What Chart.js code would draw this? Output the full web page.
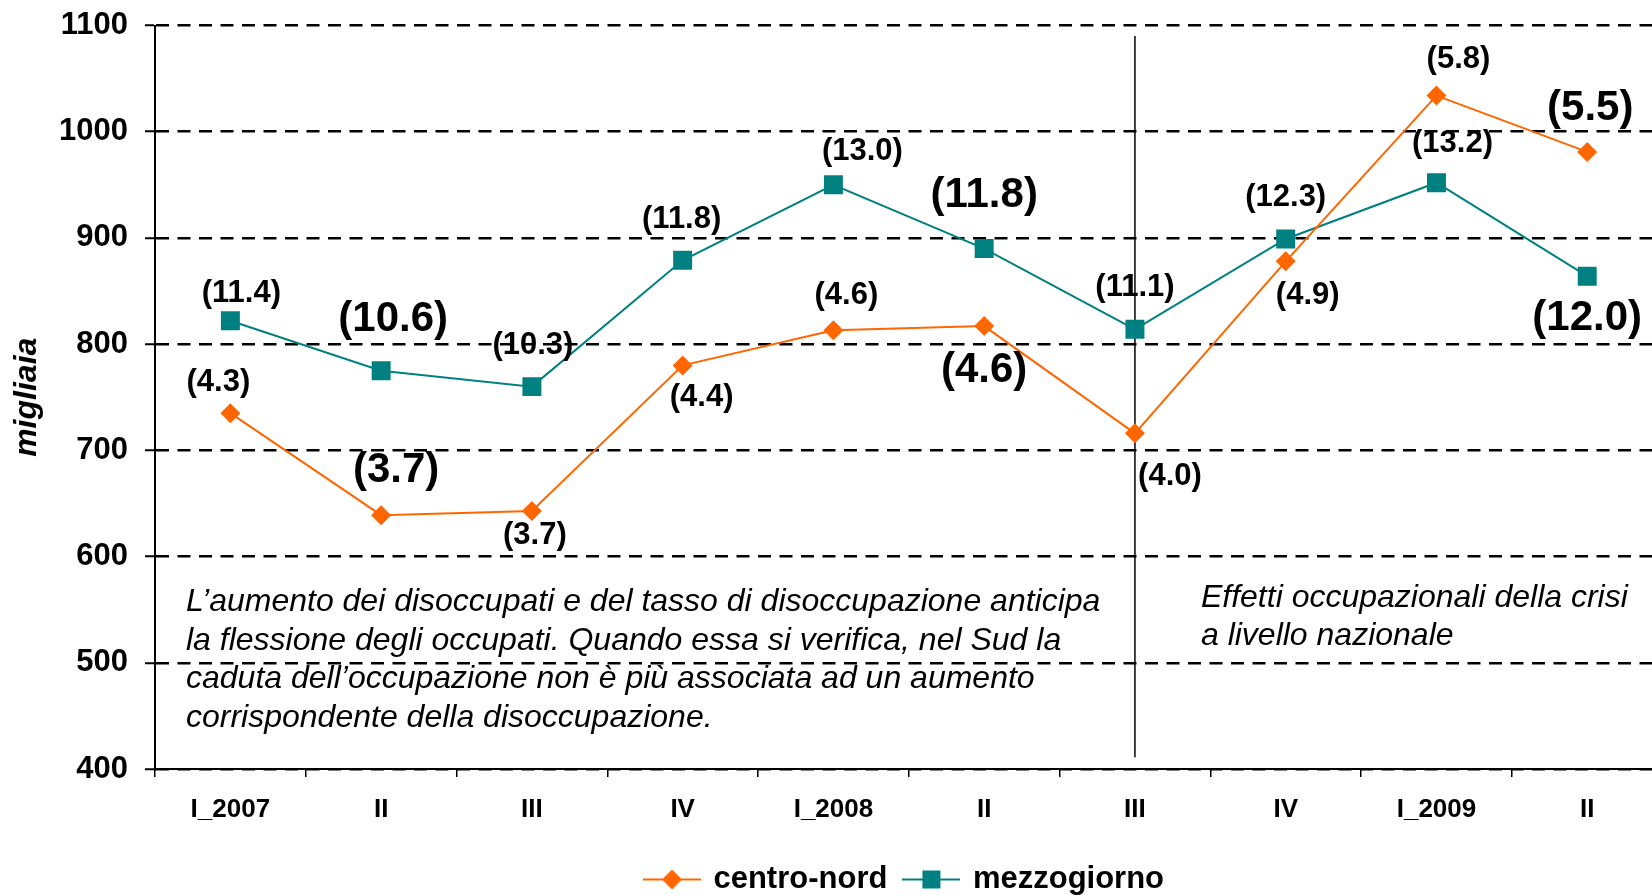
<!DOCTYPE html>
<html><head><meta charset="utf-8">
<script src="https://cdn.jsdelivr.net/npm/chart.js@4.4.1/dist/chart.umd.min.js"></script>
<style>html,body{margin:0;padding:0;overflow:hidden;background:#fff;width:1652px;height:895px}canvas{display:block}</style>
</head><body>
<canvas id="c" width="1676" height="895" style="width:1676px;height:895px"></canvas>
<script>
// ---- data ----
const categories = ["I_2007","II","III","IV","I_2008","II","III","IV","I_2009","II"];
const centroNord = [735, 639, 643, 780, 813, 817, 716, 878, 1034, 981];
const mezzogiorno = [822, 775, 760, 879, 950, 890, 814, 899, 952, 864];
const centroNordRates = ["(4.3)","(3.7)","(3.7)","(4.4)","(4.6)","(4.6)","(4.0)","(4.9)","(5.8)","(5.5)"];
const mezzogiornoRates = ["(11.4)","(10.6)","(10.3)","(11.8)","(13.0)","(11.8)","(11.1)","(12.3)","(13.2)","(12.0)"];
const yTickValues = [400, 500, 600, 700, 800, 900, 1000, 1100];
const noteLeft = [
  "L\u2019aumento dei disoccupati e del tasso di disoccupazione anticipa",
  "la flessione degli occupati. Quando essa si verifica, nel Sud la",
  "caduta dell\u2019occupazione non \u00e8 pi\u00f9 associata ad un aumento",
  "corrispondente della disoccupazione."
];
const noteRight = [
  "Effetti occupazionali della crisi",
  "a livello nazionale"
];

// ---- styling / layout ----
const FONT = '"Liberation Sans", Arial, Helvetica, sans-serif';
const ORANGE = '#FF6600', TEAL = '#008080';
const bigLabels = [1, 5, 9];
const labelPlacement = [
  { dx: [-12, 15, 3, 19, 13, 0, 35, 22, 22, 3], dy: [-31, -45, 25, 32, -35, 44, 43, 34, -36, -43] },
  { dx: [11, 12, 1, -1, 29, 0, 0, 0, 16, 0], dy: [-27, -51, -41, -41, -33, -53, -42, -42, -39, 42] }
];
const rateTexts = [centroNordRates, mezzogiornoRates];

function legendIcon(color, shape) {
  const c = document.createElement('canvas');
  c.width = 58; c.height = 24;
  const g = c.getContext('2d');
  g.strokeStyle = color; g.lineWidth = 2;
  g.beginPath(); g.moveTo(0, 12); g.lineTo(58, 12); g.stroke();
  g.fillStyle = color;
  if (shape === 'diamond') {
    g.beginPath(); g.moveTo(29, 2); g.lineTo(39, 12); g.lineTo(29, 22); g.lineTo(19, 12); g.closePath(); g.fill();
  } else {
    g.fillRect(20, 3, 18, 18);
  }
  return c;
}
const legendIcons = [legendIcon(ORANGE, 'diamond'), legendIcon(TEAL, 'square')];

const rateLabelsPlugin = {
  id: 'rateLabels',
  afterDatasetsDraw(chart) {
    const ctx = chart.ctx;
    ctx.save();
    ctx.fillStyle = '#000';
    ctx.textAlign = 'center';
    ctx.textBaseline = 'middle';
    rateTexts.forEach((texts, di) => {
      const meta = chart.getDatasetMeta(di);
      meta.data.forEach((pt, i) => {
        const big = bigLabels.includes(i);
        ctx.font = 'bold ' + (big ? 42 : 31) + 'px ' + FONT;
        ctx.fillText(texts[i], pt.x + labelPlacement[di].dx[i], pt.y + labelPlacement[di].dy[i]);
      });
    });
    ctx.restore();
  }
};

const notesPlugin = {
  id: 'notes',
  beforeDatasetsDraw(chart) {
    const { ctx, chartArea, scales: { x, y } } = chart;
    ctx.save();
    ctx.fillStyle = '#000';
    ctx.font = 'italic 32px ' + FONT;
    ctx.textAlign = 'left';
    ctx.textBaseline = 'middle';
    noteLeft.forEach((t, i) => ctx.fillText(t, chartArea.left + 31, y.getPixelForValue(557) + i * 38.5));
    noteRight.forEach((t, i) => ctx.fillText(t, x.getPixelForValue(6) + 66, y.getPixelForValue(561) + i * 38));
    const vx = x.getPixelForValue(6);
    ctx.strokeStyle = '#000';
    ctx.lineWidth = 1.5;
    ctx.beginPath();
    ctx.moveTo(vx, y.getPixelForValue(1090));
    ctx.lineTo(vx, y.getPixelForValue(411));
    ctx.stroke();
    ctx.restore();
  }
};

const legendShiftPlugin = {
  id: 'legendShift',
  afterLayout(chart) {
    const l = chart.legend;
    if (!l) return;
    l.left += 67; l.right += 67;
    l.top += 10; l.bottom += 10;
  }
};

new Chart(document.getElementById('c'), {
  type: 'line',
  data: {
    labels: categories,
    datasets: [
      {
        label: 'centro-nord', data: centroNord,
        borderColor: ORANGE, backgroundColor: ORANGE, borderWidth: 2,
        pointStyle: 'rectRot', pointRadius: 10, pointHoverRadius: 10, pointBorderWidth: 0,
        tension: 0, fill: false
      },
      {
        label: 'mezzogiorno', data: mezzogiorno,
        borderColor: TEAL, backgroundColor: TEAL, borderWidth: 2,
        pointStyle: 'rect', pointRadius: 13.4, pointHoverRadius: 13.4, pointBorderWidth: 0,
        tension: 0, fill: false
      }
    ]
  },
  options: {
    responsive: false,
    animation: false,
    devicePixelRatio: 1,
    layout: { padding: { top: 25.5, right: 0, bottom: 0, left: 0 } },
    plugins: {
      tooltip: { enabled: false },
      legend: {
        position: 'bottom',
        labels: {
          usePointStyle: true,
          pointStyleWidth: 52,
          boxHeight: 24,
          padding: 18,
          color: '#000',
          font: { family: FONT, size: 31, weight: 'bold' },
          generateLabels(chart) {
            const items = Chart.defaults.plugins.legend.labels.generateLabels(chart);
            items.forEach((it, i) => { it.pointStyle = legendIcons[i]; });
            return items;
          }
        }
      }
    },
    scales: {
      x: {
        type: 'category',
        offset: true,
        grid: { offset: true, drawOnChartArea: false, drawTicks: true, tickLength: 8, color: '#000', lineWidth: 1.5 },
        border: { display: true, color: '#000', width: 2 },
        ticks: { color: '#000', padding: 17, maxRotation: 0, autoSkip: false, font: { family: FONT, size: 26, weight: 'bold' } },
        afterFit(scale) { scale.height = 67; }
      },
      y: {
        min: 400, max: 1100,
        afterBuildTicks(scale) { scale.ticks = yTickValues.map(v => ({ value: v })); },
        grid: { color: '#000', lineWidth: 2.5, tickLength: 10, tickColor: '#000', tickWidth: 2, tickBorderDash: [] },
        border: { display: true, color: '#000', width: 2, dash: [13, 8.5] },
        ticks: { color: '#000', padding: 17, font: { family: FONT, size: 31, weight: 'bold', lineHeight: 0.4 }, callback: (v) => String(v) },
        title: { display: true, text: 'migliaia', color: '#000', padding: { top: 8, bottom: 0 }, font: { family: FONT, size: 32, weight: 'bold', style: 'italic' } },
        afterFit(scale) { scale.width = 155; }
      }
    }
  },
  plugins: [notesPlugin, rateLabelsPlugin, legendShiftPlugin]
});
</script>
</body></html>
